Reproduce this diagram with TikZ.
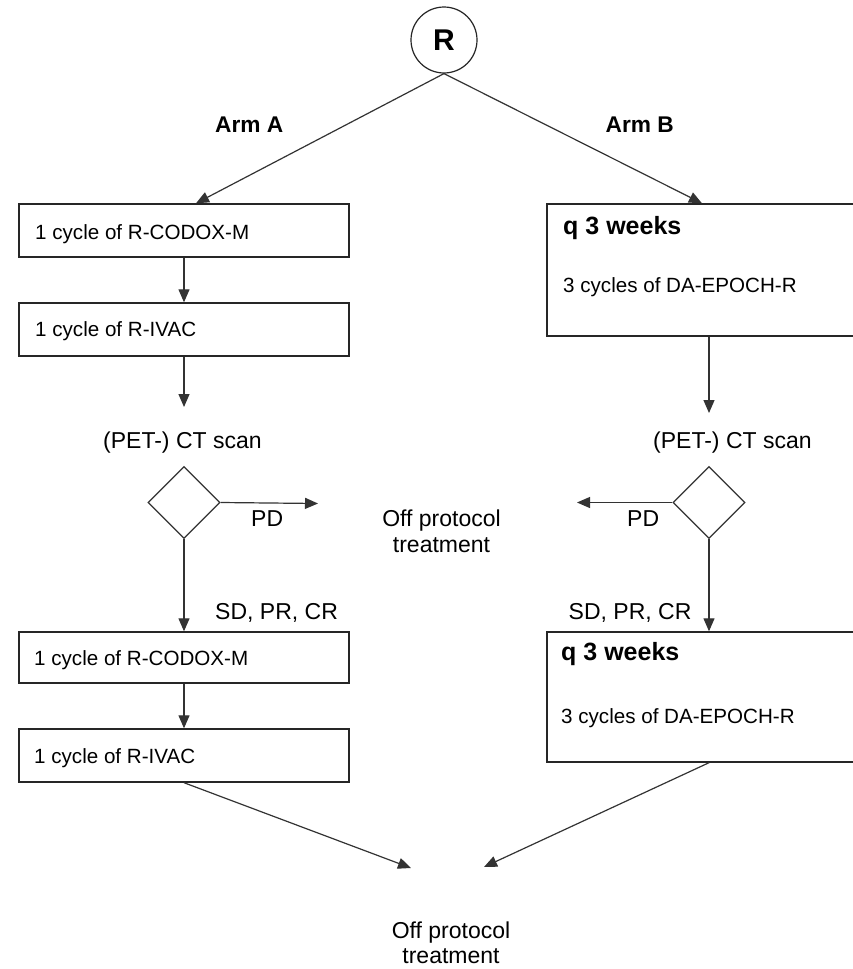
\documentclass[tikz,border=0pt]{standalone}
\usepackage{fontspec}
\setmainfont{Liberation Sans}
\usetikzlibrary{shapes.geometric,arrows.meta}

\begin{document}
\begin{tikzpicture}[x=1pt,y=-1pt,
  box/.style={draw=black!85,line width=1.4pt,rectangle,inner sep=0pt},
  decision/.style={draw=black!80,line width=1.2pt,diamond,inner sep=0pt,
    minimum width=72pt,minimum height=72pt},
  conn/.style={draw=black!80,line width=1.2pt,
    -{Triangle[length=13pt,width=11pt]}},
  boxtext/.style={anchor=base west,inner sep=0pt,
    font=\fontsize{20.6}{24}\selectfont},
  headtext/.style={anchor=base west,inner sep=0pt,
    font=\fontsize{25}{29}\selectfont\bfseries},
  lbl/.style={anchor=base west,inner sep=0pt,
    font=\fontsize{23}{26}\selectfont},
  midlbl/.style={anchor=base,inner sep=0pt,
    font=\fontsize{23}{26}\selectfont},
  armlbl/.style={anchor=base west,inner sep=0pt,
    font=\fontsize{22.7}{26}\selectfont\bfseries}
]
\clip (0,0) rectangle (853,969);
\fill[white] (0,0) rectangle (853,969);

% randomisation
\node[draw=black!85,line width=1.2pt,circle,minimum size=66pt,inner sep=0pt,
  font=\fontsize{30}{34}\selectfont\bfseries] (R) at (444,40) {R};
\node[armlbl] (armA) at (215,132) {Arm A};
\node[armlbl] (armB) at (605.5,132) {Arm B};

% arm A, first part
\node[box,minimum width=330pt,minimum height=53pt] (A1) at (184,230.5) {};
\node[boxtext] (A1t) at (35,239) {1 cycle of R-CODOX-M};
\node[box,minimum width=330pt,minimum height=53pt] (A2) at (184,329.5) {};
\node[boxtext] (A2t) at (35,336) {1 cycle of R-IVAC};

% arm B, first part
\node[box,minimum width=324pt,minimum height=132pt] (B1) at (709,270) {};
\node[headtext] (B1h) at (563,234) {q 3 weeks};
\node[boxtext] (B1t) at (563,292) {3 cycles of DA-EPOCH-R};

% restaging
\node[lbl] (ctA) at (103,448) {(PET-) CT scan};
\node[lbl] (ctB) at (653,448) {(PET-) CT scan};
\coordinate (ctAin) at (184,407);
\coordinate (ctBin) at (709,413);

\node[decision] (dA) at (184,502.5) {};
\node[decision] (dB) at (709,502.5) {};

\node[lbl] (pdA) at (251,526) {PD};
\node[lbl] (pdB) at (627,526) {PD};
\coordinate (offA) at (318,503.5);
\coordinate (offB) at (577,502.5);
\node[midlbl] (off1) at (441.5,526) {Off protocol};
\node[midlbl] (off1b) at (441.5,552) {treatment};

\node[lbl] (sdA) at (215,619) {SD, PR, CR};
\node[lbl] (sdB) at (568.5,619) {SD, PR, CR};

% arm A, second part
\node[box,minimum width=330pt,minimum height=51pt] (A3) at (184,657.5) {};
\node[boxtext] (A3t) at (34,665) {1 cycle of R-CODOX-M};
\node[box,minimum width=330pt,minimum height=53pt] (A4) at (184,755.5) {};
\node[boxtext] (A4t) at (34,763) {1 cycle of R-IVAC};

% arm B, second part
\node[box,minimum width=324pt,minimum height=130pt] (B2) at (709,697) {};
\node[headtext] (B2h) at (561,660) {q 3 weeks};
\node[boxtext] (B2t) at (561,723) {3 cycles of DA-EPOCH-R};

% end of protocol
\coordinate (endA) at (411,868);
\coordinate (endB) at (484,867);
\node[midlbl] (off2) at (451,938) {Off protocol};
\node[midlbl] (off2b) at (451,963) {treatment};

% connectors
\draw[conn] (R.south) -- ([xshift=12pt]A1.north);
\draw[conn] (R.south) -- ([xshift=-7pt]B1.north);
\draw[conn] (A1.south) -- (A2.north);
\draw[conn] (A2.south) -- (ctAin);
\draw[conn] (B1.south) -- (ctBin);
\draw[conn] (dA.east) -- (offA);
\draw[conn] (dB.west) -- (offB);
\draw[conn] (dA.south) -- (A3.north);
\draw[conn] (dB.south) -- (B2.north);
\draw[conn] (A3.south) -- (A4.north);
\draw[conn] (A4.south) -- (endA);
\draw[conn] (B2.south) -- (endB);
\end{tikzpicture}
\end{document}
